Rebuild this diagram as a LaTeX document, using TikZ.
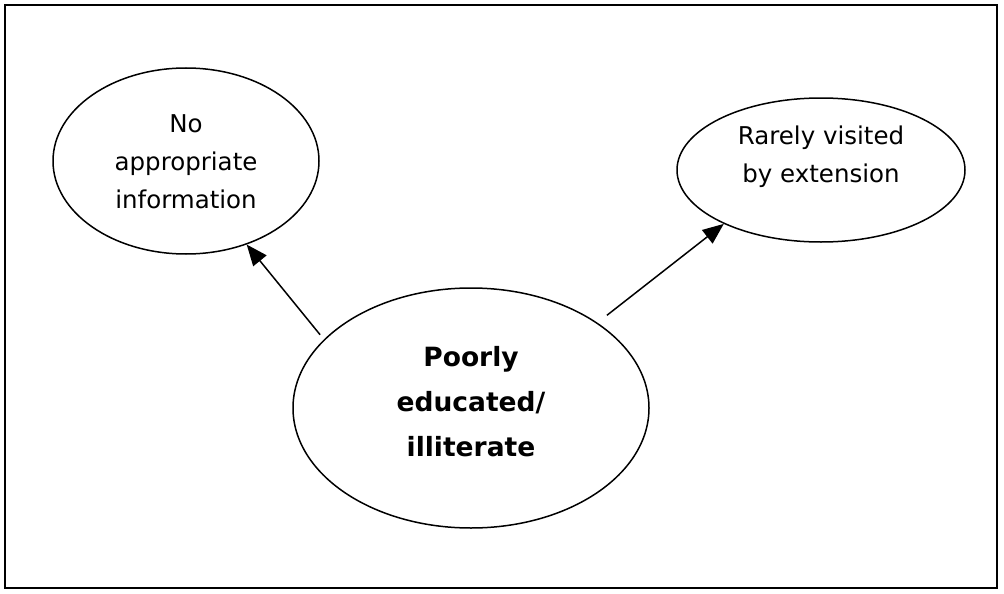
\documentclass[tikz,border=0pt]{standalone}
\usepackage{fontspec}
\setmainfont{DejaVu Sans}
\usetikzlibrary{shapes.geometric,arrows.meta}
\tikzset{
  bubble/.style={draw, ellipse, line width=1.5pt, inner sep=0pt},
  caption/.style={align=center, inner sep=0pt, font=\fontsize{24.5}{38}\selectfont},
  maincaption/.style={align=center, inner sep=0pt, font=\bfseries\fontsize{26.5}{45}\selectfont},
  link/.style={line width=1.5pt, -{Triangle[length=21pt,width=17pt]}},
}
\begin{document}
\begin{tikzpicture}[x=1pt, y=-1pt]
  % page frame
  \useasboundingbox (0,0) rectangle (1004,594);
  \draw[line width=1.8pt] (5,5) rectangle (997,588);

  % bubbles
  \node[bubble, minimum width=266pt, minimum height=186pt] (info) at (186,161) {};
  \node[bubble, minimum width=288pt, minimum height=144pt] (ext) at (821,170) {};
  \node[bubble, minimum width=356pt, minimum height=240pt] (edu) at (471,408) {};

  % texts
  \node[caption] (infotxt) at (186,162) {No\\appropriate\\information};
  \node[caption] (exttxt) at (821,157) {Rarely visited\\by extension};
  \node[maincaption] (edutxt) at (471,402) {Poorly\\educated/\\illiterate};

  % links
  \draw[link, shorten <=6pt] (edu.155) -- (info.-54);
  \draw[link, shorten <=12pt] (edu.34) -- (ext.-151);
\end{tikzpicture}
\end{document}
